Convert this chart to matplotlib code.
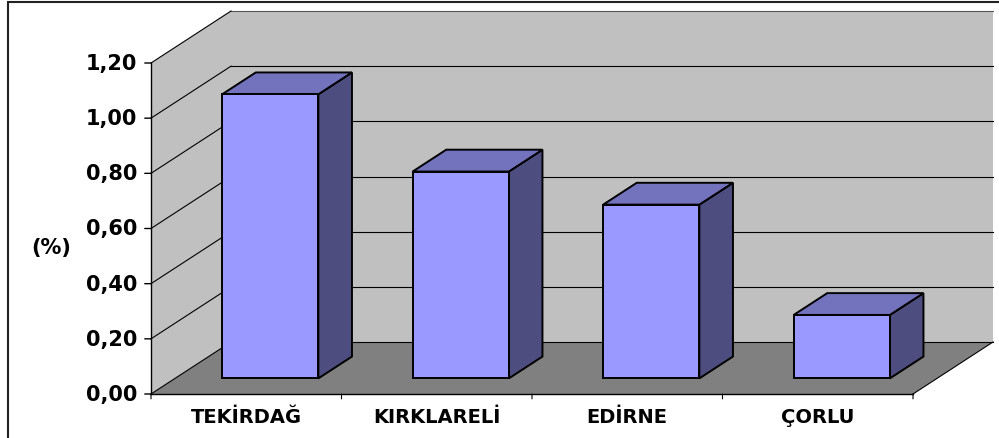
import numpy as np
import matplotlib
matplotlib.use("Agg")
import matplotlib.pyplot as plt
from matplotlib.patches import Polygon, Rectangle

# data
cities = ['TEKİRDAĞ', 'KIRKLARELİ', 'EDİRNE', 'ÇORLU']
values = [1.03, 0.75, 0.63, 0.23]
yticks = [0.0, 0.2, 0.4, 0.6, 0.8, 1.0, 1.2]
ytick_labels = ['0,00', '0,20', '0,40', '0,60', '0,80', '1,00', '1,20']

plt.rcParams['font.family'] = ['DejaVu Sans']

fig = plt.figure(figsize=(9.99, 4.39), dpi=100)
# axes = front plane of the 3D box
ax = fig.add_axes([151 / 999, 44 / 439, 762 / 999, 331 / 439])
n = len(cities)
ymax = 1.2
ax.set_xlim(0, n)
ax.set_ylim(0, ymax)
ax.axis('off')

# depth offset of the box (oblique projection) in data units
DX, DY = 0.42, 0.1885
f_front, f_back = 0.30, 0.72
bar_w = 0.505

wall = '#C0C0C0'
floor_c = '#808080'

# walls and floor
ax.add_patch(Polygon([(DX, DY), (n + DX, DY), (n + DX, ymax + DY), (DX, ymax + DY)],
                     closed=True, fc=wall, ec='none', clip_on=False, zorder=1))
ax.add_patch(Polygon([(0, 0), (DX, DY), (DX, ymax + DY), (0, ymax)],
                     closed=True, fc=wall, ec='none', clip_on=False, zorder=1))
ax.add_patch(Polygon([(0, 0), (n, 0), (n + DX, DY), (DX, DY)],
                     closed=True, fc=floor_c, ec='none', clip_on=False, zorder=1))

# gridlines on back and side wall
for v in yticks:
    col = '#555555' if v == ymax else 'black'
    ax.plot([DX, n + DX], [v + DY, v + DY], color=col, lw=0.8, clip_on=False, zorder=2)
    ax.plot([0, DX], [v, v + DY], color='black', lw=0.8, clip_on=False, zorder=2)
ax.plot([n, n + DX], [0, DY], color='black', lw=0.8, clip_on=False, zorder=2)

# bars
for i, v in enumerate(values):
    x0 = i + (1 - bar_w) / 2
    x1 = x0 + bar_w
    fx, fy = f_front * DX, f_front * DY
    bx, by = f_back * DX, f_back * DY
    side = [(x1 + fx, fy), (x1 + bx, by), (x1 + bx, v + by), (x1 + fx, v + fy)]
    top = [(x0 + fx, v + fy), (x1 + fx, v + fy), (x1 + bx, v + by), (x0 + bx, v + by)]
    front = [(x0 + fx, fy), (x1 + fx, fy), (x1 + fx, v + fy), (x0 + fx, v + fy)]
    for pts, col in [(side, '#4D4D80'), (top, '#7373BD'), (front, '#9999FF')]:
        ax.add_patch(Polygon(pts, closed=True, fc=col, ec='black', lw=1.4,
                             joinstyle='miter', clip_on=False, zorder=3 + i))

# axes lines and ticks
ax.plot([0, 0], [0, ymax], color='black', lw=1.0, clip_on=False, zorder=10)
ax.plot([0, n], [0, 0], color='black', lw=1.0, clip_on=False, zorder=10)
for v, lab in zip(yticks, ytick_labels):
    ax.annotate('', xy=(0, v), xytext=(-4.5, 0), textcoords='offset points',
                arrowprops=dict(arrowstyle='-', lw=1.0, color='black',
                                shrinkA=0, shrinkB=0), annotation_clip=False)
    ax.annotate(lab, xy=(0, v), xytext=(-10, 0), textcoords='offset points',
                ha='right', va='center', fontsize=15, fontweight='bold',
                annotation_clip=False)
for k in range(n + 1):
    ax.annotate('', xy=(k, 0), xytext=(0, -3.5), textcoords='offset points',
                arrowprops=dict(arrowstyle='-', lw=0.8, color='black',
                                shrinkA=0, shrinkB=0), annotation_clip=False)
for i, c in enumerate(cities):
    ax.annotate(c, xy=(i + 0.5, 0), xytext=(0, -16), textcoords='offset points',
                ha='center', va='center', fontsize=14, fontweight='bold',
                annotation_clip=False)

fig.text(51 / 999, 1 - 248 / 439, '(%)', ha='center', va='center',
         fontsize=15, fontweight='bold')

# outer frame
fig.add_artist(Rectangle((8 / 999, -0.05), 1.0, 1 - 3 / 439 + 0.05,
                         transform=fig.transFigure, fill=False, ec='#222222', lw=1.5))

fig.savefig('out.png', dpi=100)
